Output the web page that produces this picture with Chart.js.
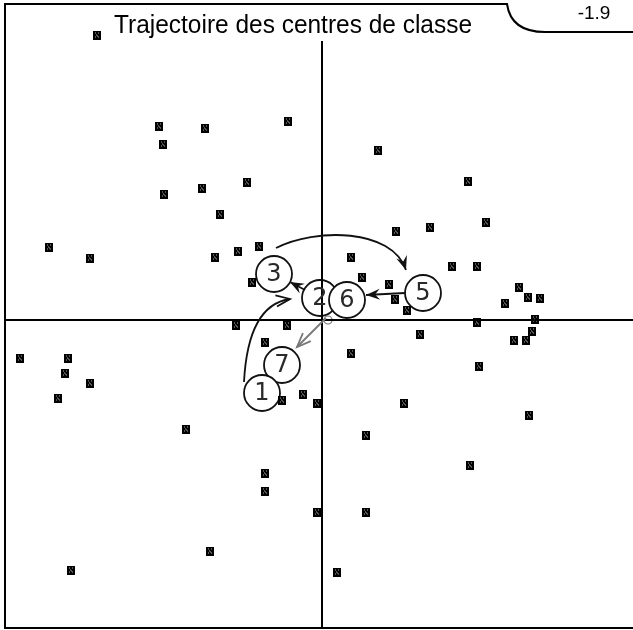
<!DOCTYPE html>
<html>
<head>
<meta charset="utf-8">
<script src="https://cdn.jsdelivr.net/npm/chart.js@4"></script>
<style>
  body { margin: 0; background: #fff; }
  canvas { display: block; }
</style>
</head>
<body>
<canvas id="trajectoire" width="633" height="630"></canvas>
<script>
// individus (coordonnees sur les deux premiers axes)
var individusX = [-2.25, -1.63, -1.17, -0.34, -1.59, -0.75, -1.20, -1.58, -1.02, -2.73, -2.32, -1.07, -0.84, -0.63, -0.70,
  0.56, 1.46, 1.64, 0.74, 1.08, 0.29, 0.40, 1.30, 1.55, 0.67, 0.73, 0.85, 1.97, 1.83, 2.06, 2.18, 2.13,
  -0.86, -0.35, -0.57, -0.40, -0.19, -0.05,
  -3.02, -2.54, -2.57, -2.32, -2.64, -1.36, -0.57, -0.57, -0.05, -1.12, -2.51,
  0.98, 1.55, 2.10, 1.92, 2.04, 0.29, 1.57, 0.82, 2.07, 0.44, 1.48, 0.44, 0.15];
var individusY = [2.85, 1.94, 1.92, 1.99, 1.76, 1.38, 1.32, 1.26, 1.06, 0.73, 0.62, 0.63, 0.69, 0.74, 0.38,
  1.70, 1.39, 0.98, 0.89, 0.93, 0.63, 0.43, 0.54, 0.54, 0.36, 0.21, 0.10, 0.33, 0.17, 0.23, 0.22, 0.01,
  -0.05, -0.05, -0.22, -0.80, -0.74, -0.83,
  -0.38, -0.38, -0.53, -0.63, -0.78, -1.09, -1.53, -1.71, -1.92, -2.31, -2.50,
  -0.14, -0.02, -0.11, -0.20, -0.20, -0.33, -0.46, -0.83, -0.95, -1.15, -1.45, -1.92, -2.52];

// centres de classe
var centresNoms = ["3", "2", "6", "5", "7", "1"];
var centresX = [-0.48, -0.02, 0.25, 1.01, -0.40, -0.60];
var centresY = [0.46, 0.22, 0.20, 0.27, -0.45, -0.73];

// centre 4 (petit cercle a l'origine)
var centre4X = [0.06];
var centre4Y = [0.00];

// fleches de la trajectoire
var fleches = [
  { de: [-0.78, -0.62], ctrl: [[-0.74, 0.15]], vers: [-0.32, 0.21], tete: "ouverte", couleur: "#111" },
  { de: [-0.17, 0.30], ctrl: [], vers: [-0.32, 0.38], tete: "pleine", couleur: "#111" },
  { de: [-0.46, 0.72], ctrl: [[-0.07, 0.92], [0.70, 0.92]], vers: [0.84, 0.50], tete: "pleine", couleur: "#111" },
  { de: [0.83, 0.27], ctrl: [], vers: [0.44, 0.25], tete: "pleine", couleur: "#111" },
  { de: [0.04, 0.02], ctrl: [], vers: [-0.25, -0.27], tete: "ouverte", couleur: "#777" }
];

function versPoints(xs, ys) {
  var pts = [];
  for (var i = 0; i < xs.length; i++) {
    pts.push({ x: xs[i], y: ys[i] });
  }
  return pts;
}

function marqueur() {
  var c = document.createElement("canvas");
  c.width = 8;
  c.height = 9;
  var g = c.getContext("2d");
  g.fillStyle = "#000";
  g.fillRect(0, 0, 8, 9);
  g.fillStyle = "#aaa";
  [[2, 2], [5, 2], [3, 4], [5, 6], [2, 6], [4, 5]].forEach(function (p) {
    g.fillRect(p[0], p[1], 1, 1);
  });
  return c;
}

var decor = {
  id: "decor",
  afterDatasetsDraw: function (chart) {
    var ctx = chart.ctx;
    var sx = chart.scales.x;
    var sy = chart.scales.y;
    var x0 = sx.getPixelForValue(0);
    var y0 = sy.getPixelForValue(0);

    ctx.save();
    ctx.strokeStyle = "#000";
    ctx.lineWidth = 2;

    // cadre
    ctx.beginPath();
    ctx.moveTo(633, 32);
    ctx.lineTo(545, 32);
    ctx.quadraticCurveTo(511, 32, 507, 4);
    ctx.lineTo(5, 4);
    ctx.lineTo(5, 628);
    ctx.lineTo(633, 628);
    ctx.stroke();

    // axes
    ctx.beginPath();
    ctx.moveTo(5, y0);
    ctx.lineTo(633, y0);
    ctx.moveTo(x0, sy.getPixelForValue(2.79));
    ctx.lineTo(x0, 628);
    ctx.stroke();

    // fleches
    fleches.forEach(function (f) {
      var p0 = [sx.getPixelForValue(f.de[0]), sy.getPixelForValue(f.de[1])];
      var p1 = [sx.getPixelForValue(f.vers[0]), sy.getPixelForValue(f.vers[1])];
      var cs = f.ctrl.map(function (c) {
        return [sx.getPixelForValue(c[0]), sy.getPixelForValue(c[1])];
      });
      ctx.strokeStyle = f.couleur;
      ctx.fillStyle = f.couleur;
      ctx.lineWidth = 1.8;
      ctx.beginPath();
      ctx.moveTo(p0[0], p0[1]);
      if (cs.length == 1) {
        ctx.quadraticCurveTo(cs[0][0], cs[0][1], p1[0], p1[1]);
      } else if (cs.length == 2) {
        ctx.bezierCurveTo(cs[0][0], cs[0][1], cs[1][0], cs[1][1], p1[0], p1[1]);
      } else {
        ctx.lineTo(p1[0], p1[1]);
      }
      ctx.stroke();
      var avant = cs.length ? cs[cs.length - 1] : p0;
      var ang = Math.atan2(p1[1] - avant[1], p1[0] - avant[0]);
      var l = 15;
      var a1 = [p1[0] - l * Math.cos(ang - 0.38), p1[1] - l * Math.sin(ang - 0.38)];
      var a2 = [p1[0] - l * Math.cos(ang + 0.38), p1[1] - l * Math.sin(ang + 0.38)];
      var m = [p1[0] - 9 * Math.cos(ang), p1[1] - 9 * Math.sin(ang)];
      ctx.beginPath();
      if (f.tete == "pleine") {
        ctx.moveTo(p1[0], p1[1]);
        ctx.lineTo(a1[0], a1[1]);
        ctx.lineTo(m[0], m[1]);
        ctx.lineTo(a2[0], a2[1]);
        ctx.closePath();
        ctx.fill();
      } else {
        ctx.moveTo(a1[0], a1[1]);
        ctx.lineTo(p1[0], p1[1]);
        ctx.lineTo(a2[0], a2[1]);
        ctx.stroke();
      }
    });

    // numeros des centres
    ctx.fillStyle = "#2a2a2a";
    ctx.font = "24px 'DejaVu Sans', 'Liberation Sans', sans-serif";
    ctx.textAlign = "center";
    ctx.textBaseline = "middle";
    for (var i = 0; i < centresNoms.length; i++) {
      ctx.fillText(centresNoms[i], sx.getPixelForValue(centresX[i]), sy.getPixelForValue(centresY[i]) + 1);
    }

    // titre
    ctx.fillStyle = "#000";
    ctx.textBaseline = "alphabetic";
    ctx.font = "24px 'Liberation Sans', Arial, sans-serif";
    var titre = "Trajectoire des centres de classe";
    var w = ctx.measureText(titre).width;
    ctx.save();
    ctx.translate(293, 33);
    ctx.scale(358 / w, 1.05);
    ctx.fillText(titre, 0, 0);
    ctx.restore();

    ctx.font = "19px 'Liberation Sans', Arial, sans-serif";
    ctx.fillText("-1.9", 594, 19);
    ctx.restore();
  }
};

var ctx = document.getElementById("trajectoire");
var graphe = new Chart(ctx, {
  type: "scatter",
  data: {
    datasets: [
      {
        label: "individus",
        data: versPoints(individusX, individusY),
        pointStyle: marqueur(),
      },
      {
        label: "centre 4",
        data: versPoints(centre4X, centre4Y),
        pointRadius: 4,
        backgroundColor: "#fff",
        borderColor: "#777",
        borderWidth: 1.2,
      },
      {
        label: "centres",
        data: versPoints(centresX, centresY),
        pointRadius: 18,
        backgroundColor: "#fff",
        borderColor: "#111",
        borderWidth: 1.8,
      },
    ],
  },
  options: {
    responsive: false,
    devicePixelRatio: 1,
    animation: false,
    layout: { padding: 0, autoPadding: false },
    plugins: {
      legend: { display: false },
      tooltip: { enabled: false },
    },
    scales: {
      x: { type: "linear", min: -3.22, max: 3.11, display: false },
      y: { type: "linear", min: -3.10, max: 3.20, display: false },
    },
  },
  plugins: [decor],
});
</script>
</body>
</html>
